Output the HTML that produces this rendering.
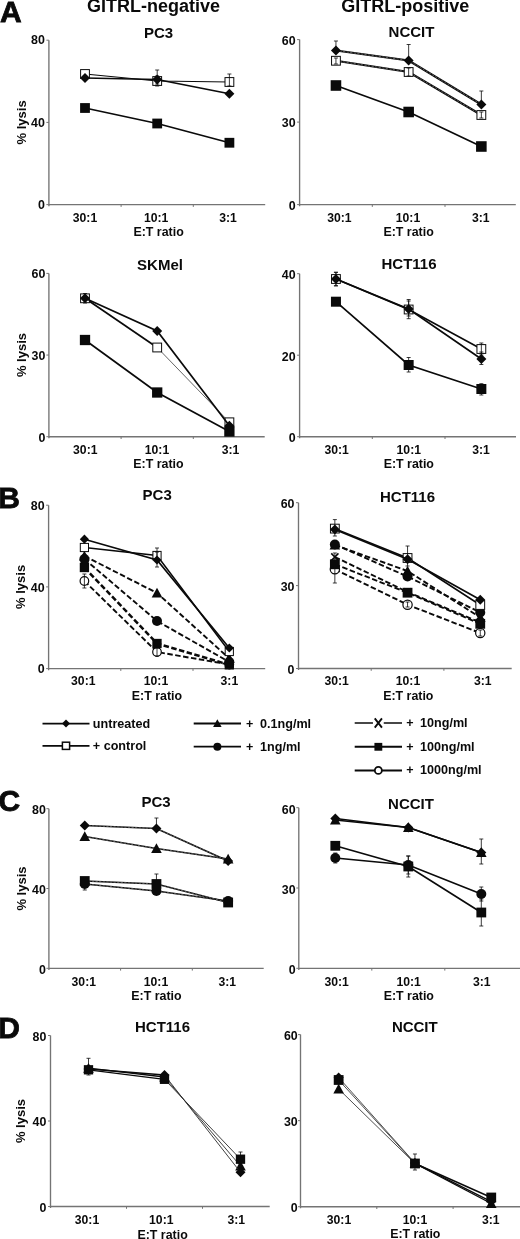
<!DOCTYPE html>
<html><head><meta charset="utf-8"><title>Figure</title>
<style>
html,body{margin:0;padding:0;background:#fff;}
body{width:520px;height:1239px;overflow:hidden;font-family:"Liberation Sans",sans-serif;}
svg{display:block;will-change:transform;}
svg text{font-family:"Liberation Sans",sans-serif;fill:#0a0a0a;}
</style></head>
<body>
<svg width="520" height="1239" viewBox="0 0 520 1239">
<rect x="0" y="0" width="520" height="1239" fill="#ffffff"/>
<text x="153.50" y="12.40" font-size="18" text-anchor="middle" font-weight="bold" >GITRL-negative</text>
<text x="405.30" y="12.20" font-size="18" text-anchor="middle" font-weight="bold" >GITRL-positive</text>
<text x="0.1" y="21.5" font-size="30" font-weight="bold" text-anchor="start" stroke="#0a0a0a" stroke-width="0.8" stroke-linejoin="miter">A</text>
<text x="-1.8" y="508.1" font-size="30" font-weight="bold" text-anchor="start" stroke="#0a0a0a" stroke-width="0.8" stroke-linejoin="miter">B</text>
<text x="-1.5" y="810.6" font-size="30" font-weight="bold" text-anchor="start" stroke="#0a0a0a" stroke-width="0.8" stroke-linejoin="miter">C</text>
<text x="-1.8" y="1038.1" font-size="30" font-weight="bold" text-anchor="start" stroke="#0a0a0a" stroke-width="0.8" stroke-linejoin="miter">D</text>
<path d="M48.9,40.2 L48.9,206.2 M48.9,204.6 L265.2,204.6" fill="none" stroke="#747474" stroke-width="1.35"/>
<path d="M46.4,40.20 L48.9,40.20" stroke="#747474" stroke-width="1"/>
<text x="44.90" y="44.30" font-size="12.4" text-anchor="end" font-weight="bold" >80</text>
<path d="M46.4,122.40 L48.9,122.40" stroke="#747474" stroke-width="1"/>
<text x="44.90" y="126.50" font-size="12.4" text-anchor="end" font-weight="bold" >40</text>
<path d="M46.4,204.60 L48.9,204.60" stroke="#747474" stroke-width="1"/>
<text x="44.90" y="208.70" font-size="12.4" text-anchor="end" font-weight="bold" >0</text>
<path d="M121.10,204.6 L121.10,206.9" stroke="#747474" stroke-width="1"/>
<path d="M193.30,204.6 L193.30,206.9" stroke="#747474" stroke-width="1"/>
<text x="85.00" y="221.60" font-size="12.2" text-anchor="middle" font-weight="bold" >30:1</text>
<text x="156.20" y="221.60" font-size="12.2" text-anchor="middle" font-weight="bold" >10:1</text>
<text x="228.00" y="221.60" font-size="12.2" text-anchor="middle" font-weight="bold" >3:1</text>
<text x="158.60" y="235.60" font-size="12.4" text-anchor="middle" font-weight="bold" >E:T ratio</text>
<text x="158.50" y="37.50" font-size="15" text-anchor="middle" font-weight="bold" >PC3</text>
<text transform="translate(25.70,122.40) rotate(-90)" font-size="13" text-anchor="middle" font-weight="bold">% lysis</text>
<polyline points="85.00,74.00 157.20,81.00 229.40,82.00" fill="none" stroke="#0a0a0a" stroke-width="1.2"/>
<rect x="80.60" y="69.60" width="8.80" height="8.80" fill="#fff" stroke="#0a0a0a" stroke-width="1"/>
<rect x="152.80" y="76.60" width="8.80" height="8.80" fill="#fff" stroke="#0a0a0a" stroke-width="1"/>
<rect x="225.00" y="77.60" width="8.80" height="8.80" fill="#fff" stroke="#0a0a0a" stroke-width="1"/>
<path d="M157.20,76 L157.20,86 M155.20,76 L159.20,76 M155.20,86 L159.20,86" stroke="#0a0a0a" stroke-width="0.8" fill="none"/>
<path d="M229.40,74 L229.40,86 M227.40,74 L231.40,74 M227.40,86 L231.40,86" stroke="#0a0a0a" stroke-width="0.8" fill="none"/>
<polyline points="85.00,78.00 157.20,79.50 229.40,93.75" fill="none" stroke="#0a0a0a" stroke-width="1.7"/>
<path d="M157.20,70 L157.20,84 M155.20,70 L159.20,70 M155.20,84 L159.20,84" stroke="#0a0a0a" stroke-width="0.8" fill="none"/>
<path d="M80.00,78.00 L85.00,73.00 L90.00,78.00 L85.00,83.00Z" fill="#0a0a0a"/>
<path d="M152.20,79.50 L157.20,74.50 L162.20,79.50 L157.20,84.50Z" fill="#0a0a0a"/>
<path d="M224.40,93.75 L229.40,88.75 L234.40,93.75 L229.40,98.75Z" fill="#0a0a0a"/>
<polyline points="85.00,108.00 157.20,123.50 229.40,142.75" fill="none" stroke="#0a0a0a" stroke-width="1.7"/>
<rect x="80.10" y="103.10" width="9.80" height="9.80" fill="#0a0a0a"/>
<rect x="152.30" y="118.60" width="9.80" height="9.80" fill="#0a0a0a"/>
<rect x="224.50" y="137.85" width="9.80" height="9.80" fill="#0a0a0a"/>
<path d="M299.6,39.6 L299.6,206.2 M299.6,204.6 L515.8,204.6" fill="none" stroke="#747474" stroke-width="1.35"/>
<path d="M297.1,39.60 L299.6,39.60" stroke="#747474" stroke-width="1"/>
<text x="295.60" y="44.60" font-size="12.4" text-anchor="end" font-weight="bold" >60</text>
<path d="M297.1,122.10 L299.6,122.10" stroke="#747474" stroke-width="1"/>
<text x="295.60" y="127.10" font-size="12.4" text-anchor="end" font-weight="bold" >30</text>
<path d="M297.1,204.60 L299.6,204.60" stroke="#747474" stroke-width="1"/>
<text x="295.60" y="209.60" font-size="12.4" text-anchor="end" font-weight="bold" >0</text>
<path d="M372.30,204.6 L372.30,206.9" stroke="#747474" stroke-width="1"/>
<path d="M445.00,204.6 L445.00,206.9" stroke="#747474" stroke-width="1"/>
<text x="339.40" y="221.60" font-size="12.2" text-anchor="middle" font-weight="bold" >30:1</text>
<text x="408.00" y="221.60" font-size="12.2" text-anchor="middle" font-weight="bold" >10:1</text>
<text x="480.80" y="221.60" font-size="12.2" text-anchor="middle" font-weight="bold" >3:1</text>
<text x="408.60" y="235.60" font-size="12.4" text-anchor="middle" font-weight="bold" >E:T ratio</text>
<text x="411.50" y="37.20" font-size="15" text-anchor="middle" font-weight="bold" >NCCIT</text>
<polyline points="335.95,60.75 408.65,72.00 481.35,115.00" fill="none" stroke="#0a0a0a" stroke-width="2.2"/>
<polyline points="335.95,60.75 408.65,72.00 481.35,115.00" fill="none" stroke="#9a9a9a" stroke-width="0.55" stroke-dasharray="2.2,1.4"/>
<rect x="331.55" y="56.35" width="8.80" height="8.80" fill="#fff" stroke="#0a0a0a" stroke-width="1"/>
<rect x="404.25" y="67.60" width="8.80" height="8.80" fill="#fff" stroke="#0a0a0a" stroke-width="1"/>
<rect x="476.95" y="110.60" width="8.80" height="8.80" fill="#fff" stroke="#0a0a0a" stroke-width="1"/>
<path d="M335.95,58 L335.95,64 M333.95,58 L337.95,58 M333.95,64 L337.95,64" stroke="#0a0a0a" stroke-width="0.8" fill="none"/>
<path d="M408.65,68 L408.65,76 M406.65,68 L410.65,68 M406.65,76 L410.65,76" stroke="#0a0a0a" stroke-width="0.8" fill="none"/>
<path d="M481.35,112 L481.35,118 M479.35,112 L483.35,112 M479.35,118 L483.35,118" stroke="#0a0a0a" stroke-width="0.8" fill="none"/>
<polyline points="335.95,50.50 408.65,60.50 481.35,104.50" fill="none" stroke="#0a0a0a" stroke-width="2.2"/>
<polyline points="335.95,50.50 408.65,60.50 481.35,104.50" fill="none" stroke="#9a9a9a" stroke-width="0.55" stroke-dasharray="2.2,1.4"/>
<path d="M335.95,41 L335.95,50 M333.95,41 L337.95,41 M333.95,50 L337.95,50" stroke="#0a0a0a" stroke-width="0.8" fill="none"/>
<path d="M408.65,44.5 L408.65,60 M406.65,44.5 L410.65,44.5 M406.65,60 L410.65,60" stroke="#0a0a0a" stroke-width="0.8" fill="none"/>
<path d="M481.35,91 L481.35,104 M479.35,91 L483.35,91 M479.35,104 L483.35,104" stroke="#0a0a0a" stroke-width="0.8" fill="none"/>
<path d="M330.95,50.50 L335.95,45.50 L340.95,50.50 L335.95,55.50Z" fill="#0a0a0a"/>
<path d="M403.65,60.50 L408.65,55.50 L413.65,60.50 L408.65,65.50Z" fill="#0a0a0a"/>
<path d="M476.35,104.50 L481.35,99.50 L486.35,104.50 L481.35,109.50Z" fill="#0a0a0a"/>
<polyline points="335.95,85.50 408.65,112.00 481.35,146.50" fill="none" stroke="#0a0a0a" stroke-width="1.7"/>
<rect x="330.66" y="80.21" width="10.58" height="10.58" fill="#0a0a0a"/>
<rect x="403.36" y="106.71" width="10.58" height="10.58" fill="#0a0a0a"/>
<rect x="476.06" y="141.21" width="10.58" height="10.58" fill="#0a0a0a"/>
<path d="M48.9,273.4 L48.9,438.3 M48.9,436.7 L264.7,436.7" fill="none" stroke="#747474" stroke-width="1.35"/>
<path d="M46.4,273.40 L48.9,273.40" stroke="#747474" stroke-width="1"/>
<text x="45.40" y="278.20" font-size="12.4" text-anchor="end" font-weight="bold" >60</text>
<path d="M46.4,355.05 L48.9,355.05" stroke="#747474" stroke-width="1"/>
<text x="45.40" y="359.85" font-size="12.4" text-anchor="end" font-weight="bold" >30</text>
<path d="M46.4,436.70 L48.9,436.70" stroke="#747474" stroke-width="1"/>
<text x="45.40" y="441.50" font-size="12.4" text-anchor="end" font-weight="bold" >0</text>
<path d="M121.10,436.7 L121.10,439.0" stroke="#747474" stroke-width="1"/>
<path d="M193.30,436.7 L193.30,439.0" stroke="#747474" stroke-width="1"/>
<text x="85.30" y="454.00" font-size="12.2" text-anchor="middle" font-weight="bold" >30:1</text>
<text x="157.00" y="454.00" font-size="12.2" text-anchor="middle" font-weight="bold" >10:1</text>
<text x="230.60" y="454.00" font-size="12.2" text-anchor="middle" font-weight="bold" >3:1</text>
<text x="158.40" y="468.30" font-size="12.4" text-anchor="middle" font-weight="bold" >E:T ratio</text>
<text x="160.00" y="269.50" font-size="15" text-anchor="middle" font-weight="bold" >SKMel</text>
<text transform="translate(25.70,355.05) rotate(-90)" font-size="13" text-anchor="middle" font-weight="bold">% lysis</text>
<path d="M85.00,298.30 L157.20,347.50" fill="none" stroke="#0a0a0a" stroke-width="1.7"/>
<path d="M157.20,347.50 L229.40,422.30" fill="none" stroke="#555" stroke-width="0.9"/>
<rect x="80.60" y="293.90" width="8.80" height="8.80" fill="#fff" stroke="#0a0a0a" stroke-width="1"/>
<rect x="152.80" y="343.10" width="8.80" height="8.80" fill="#fff" stroke="#0a0a0a" stroke-width="1"/>
<rect x="225.00" y="417.90" width="8.80" height="8.80" fill="#fff" stroke="#0a0a0a" stroke-width="1"/>
<path d="M85.00,293.5 L85.00,303 M83.00,293.5 L87.00,293.5 M83.00,303 L87.00,303" stroke="#0a0a0a" stroke-width="0.8" fill="none"/>
<polyline points="85.00,298.30 157.20,331.00 229.40,425.80" fill="none" stroke="#0a0a0a" stroke-width="1.7"/>
<path d="M80.00,298.30 L85.00,293.30 L90.00,298.30 L85.00,303.30Z" fill="#0a0a0a"/>
<path d="M152.20,331.00 L157.20,326.00 L162.20,331.00 L157.20,336.00Z" fill="#0a0a0a"/>
<path d="M224.40,425.80 L229.40,420.80 L234.40,425.80 L229.40,430.80Z" fill="#0a0a0a"/>
<polyline points="85.00,340.00 157.20,392.50 229.40,431.50" fill="none" stroke="#0a0a0a" stroke-width="1.7"/>
<rect x="79.86" y="334.86" width="10.29" height="10.29" fill="#0a0a0a"/>
<rect x="152.06" y="387.36" width="10.29" height="10.29" fill="#0a0a0a"/>
<rect x="224.25" y="426.36" width="10.29" height="10.29" fill="#0a0a0a"/>
<path d="M299.6,273.7 L299.6,438.3 M299.6,436.7 L516,436.7" fill="none" stroke="#747474" stroke-width="1.35"/>
<path d="M297.1,273.70 L299.6,273.70" stroke="#747474" stroke-width="1"/>
<text x="295.60" y="279.10" font-size="12.4" text-anchor="end" font-weight="bold" >40</text>
<path d="M297.1,355.20 L299.6,355.20" stroke="#747474" stroke-width="1"/>
<text x="295.60" y="360.60" font-size="12.4" text-anchor="end" font-weight="bold" >20</text>
<path d="M297.1,436.70 L299.6,436.70" stroke="#747474" stroke-width="1"/>
<text x="295.60" y="442.10" font-size="12.4" text-anchor="end" font-weight="bold" >0</text>
<path d="M372.30,436.7 L372.30,439.0" stroke="#747474" stroke-width="1"/>
<path d="M445.00,436.7 L445.00,439.0" stroke="#747474" stroke-width="1"/>
<text x="336.70" y="454.00" font-size="12.2" text-anchor="middle" font-weight="bold" >30:1</text>
<text x="408.80" y="454.00" font-size="12.2" text-anchor="middle" font-weight="bold" >10:1</text>
<text x="481.00" y="454.00" font-size="12.2" text-anchor="middle" font-weight="bold" >3:1</text>
<text x="408.80" y="468.30" font-size="12.4" text-anchor="middle" font-weight="bold" >E:T ratio</text>
<text x="409.00" y="269.00" font-size="15" text-anchor="middle" font-weight="bold" >HCT116</text>
<polyline points="335.95,279.00 408.65,309.50 481.35,349.00" fill="none" stroke="#0a0a0a" stroke-width="1.6"/>
<rect x="331.55" y="274.60" width="8.80" height="8.80" fill="#fff" stroke="#0a0a0a" stroke-width="1"/>
<rect x="404.25" y="305.10" width="8.80" height="8.80" fill="#fff" stroke="#0a0a0a" stroke-width="1"/>
<rect x="476.95" y="344.60" width="8.80" height="8.80" fill="#fff" stroke="#0a0a0a" stroke-width="1"/>
<path d="M335.95,272.3 L335.95,285.8 M333.95,272.3 L337.95,272.3 M333.95,285.8 L337.95,285.8" stroke="#0a0a0a" stroke-width="0.8" fill="none"/>
<path d="M408.65,299.5 L408.65,318.7 M406.65,299.5 L410.65,299.5 M406.65,318.7 L410.65,318.7" stroke="#0a0a0a" stroke-width="0.8" fill="none"/>
<path d="M481.35,343 L481.35,355 M479.35,343 L483.35,343 M479.35,355 L483.35,355" stroke="#0a0a0a" stroke-width="0.8" fill="none"/>
<polyline points="335.95,279.00 408.65,309.00 481.35,359.00" fill="none" stroke="#0a0a0a" stroke-width="1.7"/>
<path d="M335.95,272.3 L335.95,285.8 M333.95,272.3 L337.95,272.3 M333.95,285.8 L337.95,285.8" stroke="#0a0a0a" stroke-width="0.8" fill="none"/>
<path d="M408.65,301 L408.65,316 M406.65,301 L410.65,301 M406.65,316 L410.65,316" stroke="#0a0a0a" stroke-width="0.8" fill="none"/>
<path d="M481.35,352 L481.35,364.5 M479.35,352 L483.35,352 M479.35,364.5 L483.35,364.5" stroke="#0a0a0a" stroke-width="0.8" fill="none"/>
<path d="M330.95,279.00 L335.95,274.00 L340.95,279.00 L335.95,284.00Z" fill="#0a0a0a"/>
<path d="M403.65,309.00 L408.65,304.00 L413.65,309.00 L408.65,314.00Z" fill="#0a0a0a"/>
<path d="M476.35,359.00 L481.35,354.00 L486.35,359.00 L481.35,364.00Z" fill="#0a0a0a"/>
<polyline points="335.95,301.70 408.65,365.00 481.35,389.00" fill="none" stroke="#0a0a0a" stroke-width="1.7"/>
<path d="M408.65,357.5 L408.65,372 M406.65,357.5 L410.65,357.5 M406.65,372 L410.65,372" stroke="#0a0a0a" stroke-width="0.8" fill="none"/>
<path d="M481.35,383.7 L481.35,395 M479.35,383.7 L483.35,383.7 M479.35,395 L483.35,395" stroke="#0a0a0a" stroke-width="0.8" fill="none"/>
<rect x="330.95" y="296.70" width="10.00" height="10.00" fill="#0a0a0a"/>
<rect x="403.65" y="360.00" width="10.00" height="10.00" fill="#0a0a0a"/>
<rect x="476.35" y="384.00" width="10.00" height="10.00" fill="#0a0a0a"/>
<path d="M48.6,505.2 L48.6,670.2 M48.6,668.6 L265.2,668.6" fill="none" stroke="#747474" stroke-width="1.35"/>
<path d="M46.1,505.20 L48.6,505.20" stroke="#747474" stroke-width="1"/>
<text x="44.60" y="510.00" font-size="12.4" text-anchor="end" font-weight="bold" >80</text>
<path d="M46.1,586.90 L48.6,586.90" stroke="#747474" stroke-width="1"/>
<text x="44.60" y="591.70" font-size="12.4" text-anchor="end" font-weight="bold" >40</text>
<path d="M46.1,668.60 L48.6,668.60" stroke="#747474" stroke-width="1"/>
<text x="44.60" y="673.40" font-size="12.4" text-anchor="end" font-weight="bold" >0</text>
<path d="M120.80,668.6 L120.80,670.9" stroke="#747474" stroke-width="1"/>
<path d="M193.00,668.6 L193.00,670.9" stroke="#747474" stroke-width="1"/>
<text x="83.30" y="685.00" font-size="12.2" text-anchor="middle" font-weight="bold" >30:1</text>
<text x="156.00" y="685.00" font-size="12.2" text-anchor="middle" font-weight="bold" >10:1</text>
<text x="229.40" y="685.00" font-size="12.2" text-anchor="middle" font-weight="bold" >3:1</text>
<text x="157.00" y="699.80" font-size="12.4" text-anchor="middle" font-weight="bold" >E:T ratio</text>
<text x="157.20" y="500.00" font-size="15" text-anchor="middle" font-weight="bold" >PC3</text>
<text transform="translate(25.40,586.90) rotate(-90)" font-size="13" text-anchor="middle" font-weight="bold">% lysis</text>
<polyline points="84.40,581.00 157.00,652.00 229.30,664.50" fill="none" stroke="#0a0a0a" stroke-width="1.9" stroke-dasharray="5.5,2.5"/>
<circle cx="84.40" cy="581.00" r="4.30" fill="#fff" stroke="#0a0a0a" stroke-width="1.2"/>
<circle cx="157.00" cy="652.00" r="4.30" fill="#fff" stroke="#0a0a0a" stroke-width="1.2"/>
<circle cx="229.30" cy="664.50" r="4.30" fill="#fff" stroke="#0a0a0a" stroke-width="1.2"/>
<path d="M84.40,574 L84.40,588 M82.40,574 L86.40,574 M82.40,588 L86.40,588" stroke="#0a0a0a" stroke-width="0.8" fill="none"/>
<path d="M157.00,648 L157.00,656 M155.00,648 L159.00,648 M155.00,656 L159.00,656" stroke="#0a0a0a" stroke-width="0.8" fill="none"/>
<polyline points="84.40,566.00 157.00,643.50 229.30,665.00" fill="none" stroke="#0a0a0a" stroke-width="0"/>
<path d="M80.80,562.40 L88.00,569.60 M80.80,569.60 L88.00,562.40" stroke="#0a0a0a" stroke-width="1.5" fill="none"/>
<path d="M153.40,639.90 L160.60,647.10 M153.40,647.10 L160.60,639.90" stroke="#0a0a0a" stroke-width="1.5" fill="none"/>
<path d="M225.70,661.40 L232.90,668.60 M225.70,668.60 L232.90,661.40" stroke="#0a0a0a" stroke-width="1.5" fill="none"/>
<polyline points="84.40,567.50 157.00,643.50 229.30,664.80" fill="none" stroke="#0a0a0a" stroke-width="2.5" stroke-dasharray="5.5,2.5"/>
<rect x="79.75" y="562.85" width="9.31" height="9.31" fill="#0a0a0a"/>
<rect x="152.34" y="638.85" width="9.31" height="9.31" fill="#0a0a0a"/>
<rect x="224.65" y="660.14" width="9.31" height="9.31" fill="#0a0a0a"/>
<polyline points="84.40,559.00 157.00,621.00 229.30,662.00" fill="none" stroke="#0a0a0a" stroke-width="1.9" stroke-dasharray="5.5,2.5"/>
<circle cx="84.40" cy="559.00" r="5.00" fill="#0a0a0a"/>
<circle cx="157.00" cy="621.00" r="5.00" fill="#0a0a0a"/>
<circle cx="229.30" cy="662.00" r="5.00" fill="#0a0a0a"/>
<polyline points="84.40,556.00 157.00,593.00 229.30,658.50" fill="none" stroke="#0a0a0a" stroke-width="1.9" stroke-dasharray="5.5,2.5"/>
<path d="M79.10,560.50 L84.40,550.70 L89.70,560.50Z" fill="#0a0a0a"/>
<path d="M151.70,597.50 L157.00,587.70 L162.30,597.50Z" fill="#0a0a0a"/>
<path d="M224.00,663.00 L229.30,653.20 L234.60,663.00Z" fill="#0a0a0a"/>
<polyline points="84.40,547.50 157.00,555.50 229.30,651.50" fill="none" stroke="#0a0a0a" stroke-width="1.5"/>
<rect x="80.31" y="543.41" width="8.18" height="8.18" fill="#fff" stroke="#0a0a0a" stroke-width="1"/>
<rect x="152.91" y="551.41" width="8.18" height="8.18" fill="#fff" stroke="#0a0a0a" stroke-width="1"/>
<rect x="225.21" y="647.41" width="8.18" height="8.18" fill="#fff" stroke="#0a0a0a" stroke-width="1"/>
<path d="M157.00,548 L157.00,561 M155.00,548 L159.00,548 M155.00,561 L159.00,561" stroke="#0a0a0a" stroke-width="0.8" fill="none"/>
<polyline points="84.40,539.20 157.00,560.00 229.30,648.00" fill="none" stroke="#0a0a0a" stroke-width="1.7"/>
<path d="M157.00,552 L157.00,567 M155.00,552 L159.00,552 M155.00,567 L159.00,567" stroke="#0a0a0a" stroke-width="0.8" fill="none"/>
<path d="M79.80,539.20 L84.40,534.60 L89.00,539.20 L84.40,543.80Z" fill="#0a0a0a"/>
<path d="M152.40,560.00 L157.00,555.40 L161.60,560.00 L157.00,564.60Z" fill="#0a0a0a"/>
<path d="M224.70,648.00 L229.30,643.40 L233.90,648.00 L229.30,652.60Z" fill="#0a0a0a"/>
<path d="M298.5,502.7 L298.5,670.1 M298.5,668.5 L511.7,668.5" fill="none" stroke="#747474" stroke-width="1.35"/>
<path d="M296.0,502.70 L298.5,502.70" stroke="#747474" stroke-width="1"/>
<text x="294.50" y="507.70" font-size="12.4" text-anchor="end" font-weight="bold" >60</text>
<path d="M296.0,585.60 L298.5,585.60" stroke="#747474" stroke-width="1"/>
<text x="294.50" y="590.60" font-size="12.4" text-anchor="end" font-weight="bold" >30</text>
<path d="M296.0,668.50 L298.5,668.50" stroke="#747474" stroke-width="1"/>
<text x="294.50" y="673.50" font-size="12.4" text-anchor="end" font-weight="bold" >0</text>
<path d="M371.20,668.5 L371.20,670.8" stroke="#747474" stroke-width="1"/>
<path d="M443.90,668.5 L443.90,670.8" stroke="#747474" stroke-width="1"/>
<text x="336.70" y="685.00" font-size="12.2" text-anchor="middle" font-weight="bold" >30:1</text>
<text x="408.00" y="685.00" font-size="12.2" text-anchor="middle" font-weight="bold" >10:1</text>
<text x="482.70" y="685.00" font-size="12.2" text-anchor="middle" font-weight="bold" >3:1</text>
<text x="408.30" y="699.80" font-size="12.4" text-anchor="middle" font-weight="bold" >E:T ratio</text>
<text x="407.50" y="501.80" font-size="15" text-anchor="middle" font-weight="bold" >HCT116</text>
<polyline points="334.85,569.30 407.55,604.70 480.25,633.00" fill="none" stroke="#0a0a0a" stroke-width="1.9" stroke-dasharray="5.5,2.5"/>
<circle cx="334.85" cy="569.30" r="4.64" fill="#fff" stroke="#0a0a0a" stroke-width="1.2"/>
<circle cx="407.55" cy="604.70" r="4.64" fill="#fff" stroke="#0a0a0a" stroke-width="1.2"/>
<circle cx="480.25" cy="633.00" r="4.64" fill="#fff" stroke="#0a0a0a" stroke-width="1.2"/>
<path d="M334.85,553 L334.85,583 M332.85,553 L336.85,553 M332.85,583 L336.85,583" stroke="#0a0a0a" stroke-width="0.8" fill="none"/>
<path d="M407.55,602 L407.55,607 M405.55,602 L409.55,602 M405.55,607 L409.55,607" stroke="#0a0a0a" stroke-width="0.8" fill="none"/>
<path d="M480.25,630 L480.25,636 M478.25,630 L482.25,630 M478.25,636 L482.25,636" stroke="#0a0a0a" stroke-width="0.8" fill="none"/>
<polyline points="334.85,557.00 407.55,592.00 480.25,622.50" fill="none" stroke="#0a0a0a" stroke-width="1.9" stroke-dasharray="5.5,2.5"/>
<path d="M331.25,553.40 L338.45,560.60 M331.25,560.60 L338.45,553.40" stroke="#0a0a0a" stroke-width="1.5" fill="none"/>
<path d="M403.95,588.40 L411.15,595.60 M403.95,595.60 L411.15,588.40" stroke="#0a0a0a" stroke-width="1.5" fill="none"/>
<path d="M476.65,618.90 L483.85,626.10 M476.65,626.10 L483.85,618.90" stroke="#0a0a0a" stroke-width="1.5" fill="none"/>
<polyline points="334.85,564.30 407.55,592.70 480.25,623.80" fill="none" stroke="#0a0a0a" stroke-width="1.9" stroke-dasharray="5.5,2.5"/>
<rect x="329.95" y="559.40" width="9.80" height="9.80" fill="#0a0a0a"/>
<rect x="402.65" y="587.80" width="9.80" height="9.80" fill="#0a0a0a"/>
<rect x="475.35" y="618.90" width="9.80" height="9.80" fill="#0a0a0a"/>
<polyline points="334.85,545.00 407.55,571.00 480.25,617.50" fill="none" stroke="#0a0a0a" stroke-width="1.9" stroke-dasharray="5.5,2.5"/>
<path d="M329.55,549.50 L334.85,539.70 L340.15,549.50Z" fill="#0a0a0a"/>
<path d="M402.25,575.50 L407.55,565.70 L412.85,575.50Z" fill="#0a0a0a"/>
<path d="M474.95,622.00 L480.25,612.20 L485.55,622.00Z" fill="#0a0a0a"/>
<polyline points="334.85,544.50 407.55,576.50 480.25,612.50" fill="none" stroke="#0a0a0a" stroke-width="1.9" stroke-dasharray="5.5,2.5"/>
<circle cx="334.85" cy="544.50" r="5.00" fill="#0a0a0a"/>
<circle cx="407.55" cy="576.50" r="5.00" fill="#0a0a0a"/>
<circle cx="480.25" cy="612.50" r="5.00" fill="#0a0a0a"/>
<polyline points="334.85,528.60 407.55,558.00 480.25,605.00" fill="none" stroke="#0a0a0a" stroke-width="1.5"/>
<rect x="330.45" y="524.20" width="8.80" height="8.80" fill="#fff" stroke="#0a0a0a" stroke-width="1"/>
<rect x="403.15" y="553.60" width="8.80" height="8.80" fill="#fff" stroke="#0a0a0a" stroke-width="1"/>
<rect x="475.85" y="600.60" width="8.80" height="8.80" fill="#fff" stroke="#0a0a0a" stroke-width="1"/>
<path d="M334.85,519.6 L334.85,536 M332.85,519.6 L336.85,519.6 M332.85,536 L336.85,536" stroke="#0a0a0a" stroke-width="0.8" fill="none"/>
<path d="M407.55,546 L407.55,566 M405.55,546 L409.55,546 M405.55,566 L409.55,566" stroke="#0a0a0a" stroke-width="0.8" fill="none"/>
<polyline points="334.85,529.50 407.55,559.30 480.25,599.80" fill="none" stroke="#0a0a0a" stroke-width="1.7"/>
<path d="M329.85,529.50 L334.85,524.50 L339.85,529.50 L334.85,534.50Z" fill="#0a0a0a"/>
<path d="M402.55,559.30 L407.55,554.30 L412.55,559.30 L407.55,564.30Z" fill="#0a0a0a"/>
<path d="M475.25,599.80 L480.25,594.80 L485.25,599.80 L480.25,604.80Z" fill="#0a0a0a"/>
<path d="M42.5,723.6 L89.5,723.6" stroke="#0a0a0a" stroke-width="1.8"/>
<path d="M62.00,723.60 L66.00,719.60 L70.00,723.60 L66.00,727.60Z" fill="#0a0a0a"/>
<text x="92.80" y="727.60" font-size="12.6" text-anchor="start" font-weight="bold" >untreated</text>
<path d="M42.5,745.8 L89.5,745.8" stroke="#0a0a0a" stroke-width="1.8"/>
<rect x="62.4" y="742.1999999999999" width="7.2" height="7.2" fill="#fff" stroke="#0a0a0a" stroke-width="1.5"/>
<text x="92.80" y="749.80" font-size="12.6" text-anchor="start" font-weight="bold" >+ control</text>
<path d="M193.7,723.5 L241,723.5" stroke="#0a0a0a" stroke-width="1.8"/>
<path d="M213.11,727.10 L217.35,719.26 L221.59,727.10Z" fill="#0a0a0a"/>
<text x="246.00" y="727.50" font-size="12.5" text-anchor="start" font-weight="bold" >+</text>
<text x="260.00" y="727.50" font-size="12.6" text-anchor="start" font-weight="bold" >0.1ng/ml</text>
<path d="M193.7,746.7 L241,746.7" stroke="#0a0a0a" stroke-width="1.8"/>
<circle cx="217.35" cy="746.70" r="4.00" fill="#0a0a0a"/>
<text x="246.00" y="750.70" font-size="12.5" text-anchor="start" font-weight="bold" >+</text>
<text x="260.00" y="750.70" font-size="12.6" text-anchor="start" font-weight="bold" >1ng/ml</text>
<path d="M354.7,723 L402,723" stroke="#0a0a0a" stroke-width="1.5"/>
<rect x="372.95000000000005" y="720" width="10.8" height="6" fill="#fff"/>
<path d="M374.75,718.40 L381.95,727.60 M374.75,727.60 L381.95,718.40" stroke="#0a0a0a" stroke-width="1.9" fill="none"/>
<text x="406.20" y="727.00" font-size="12.5" text-anchor="start" font-weight="bold" >+</text>
<text x="420.00" y="727.00" font-size="12.6" text-anchor="start" font-weight="bold" >10ng/ml</text>
<path d="M354.7,746.8 L402,746.8" stroke="#0a0a0a" stroke-width="2.0"/>
<rect x="374.43" y="742.88" width="7.84" height="7.84" fill="#0a0a0a"/>
<text x="406.20" y="750.80" font-size="12.5" text-anchor="start" font-weight="bold" >+</text>
<text x="420.00" y="750.80" font-size="12.6" text-anchor="start" font-weight="bold" >100ng/ml</text>
<path d="M354.7,770.4 L402,770.4" stroke="#0a0a0a" stroke-width="2.0"/>
<circle cx="378.35" cy="770.4" r="3.5" fill="#fff" stroke="#0a0a0a" stroke-width="1.8"/>
<text x="406.20" y="774.40" font-size="12.5" text-anchor="start" font-weight="bold" >+</text>
<text x="420.00" y="774.40" font-size="12.6" text-anchor="start" font-weight="bold" >1000ng/ml</text>
<path d="M48.9,808.7 L48.9,969.9 M48.9,968.3 L263.7,968.3" fill="none" stroke="#747474" stroke-width="1.35"/>
<path d="M46.4,808.70 L48.9,808.70" stroke="#747474" stroke-width="1"/>
<text x="45.90" y="814.40" font-size="12.4" text-anchor="end" font-weight="bold" >80</text>
<path d="M46.4,888.50 L48.9,888.50" stroke="#747474" stroke-width="1"/>
<text x="45.90" y="894.20" font-size="12.4" text-anchor="end" font-weight="bold" >40</text>
<path d="M46.4,968.30 L48.9,968.30" stroke="#747474" stroke-width="1"/>
<text x="45.90" y="974.00" font-size="12.4" text-anchor="end" font-weight="bold" >0</text>
<path d="M120.60,968.3 L120.60,970.5999999999999" stroke="#747474" stroke-width="1"/>
<path d="M192.30,968.3 L192.30,970.5999999999999" stroke="#747474" stroke-width="1"/>
<text x="83.80" y="985.70" font-size="12.2" text-anchor="middle" font-weight="bold" >30:1</text>
<text x="156.00" y="985.70" font-size="12.2" text-anchor="middle" font-weight="bold" >10:1</text>
<text x="227.20" y="985.70" font-size="12.2" text-anchor="middle" font-weight="bold" >3:1</text>
<text x="156.50" y="1000.00" font-size="12.4" text-anchor="middle" font-weight="bold" >E:T ratio</text>
<text x="156.00" y="807.40" font-size="15" text-anchor="middle" font-weight="bold" >PC3</text>
<text transform="translate(25.70,888.50) rotate(-90)" font-size="13" text-anchor="middle" font-weight="bold">% lysis</text>
<polyline points="84.75,884.00 156.45,891.00 228.15,901.00" fill="none" stroke="#0a0a0a" stroke-width="1.7"/>
<polyline points="84.75,884.00 156.45,891.00 228.15,901.00" fill="none" stroke="#9a9a9a" stroke-width="0.55" stroke-dasharray="2.2,1.4"/>
<path d="M84.75,880 L84.75,890 M82.75,880 L86.75,880 M82.75,890 L86.75,890" stroke="#0a0a0a" stroke-width="0.8" fill="none"/>
<circle cx="84.75" cy="884.00" r="5.00" fill="#0a0a0a"/>
<circle cx="156.45" cy="891.00" r="5.00" fill="#0a0a0a"/>
<circle cx="228.15" cy="901.00" r="5.00" fill="#0a0a0a"/>
<polyline points="84.75,881.00 156.45,884.00 228.15,902.50" fill="none" stroke="#0a0a0a" stroke-width="1.7"/>
<polyline points="84.75,881.00 156.45,884.00 228.15,902.50" fill="none" stroke="#9a9a9a" stroke-width="0.55" stroke-dasharray="2.2,1.4"/>
<path d="M156.45,874 L156.45,884 M154.45,874 L158.45,874 M154.45,884 L158.45,884" stroke="#0a0a0a" stroke-width="0.8" fill="none"/>
<rect x="79.85" y="876.10" width="9.80" height="9.80" fill="#0a0a0a"/>
<rect x="151.55" y="879.10" width="9.80" height="9.80" fill="#0a0a0a"/>
<rect x="223.25" y="897.60" width="9.80" height="9.80" fill="#0a0a0a"/>
<polyline points="84.75,836.50 156.45,848.50 228.15,859.00" fill="none" stroke="#0a0a0a" stroke-width="1.7"/>
<polyline points="84.75,836.50 156.45,848.50 228.15,859.00" fill="none" stroke="#9a9a9a" stroke-width="0.55" stroke-dasharray="2.2,1.4"/>
<path d="M79.45,841.00 L84.75,831.20 L90.05,841.00Z" fill="#0a0a0a"/>
<path d="M151.15,853.00 L156.45,843.20 L161.75,853.00Z" fill="#0a0a0a"/>
<path d="M222.85,863.50 L228.15,853.70 L233.45,863.50Z" fill="#0a0a0a"/>
<polyline points="84.75,825.50 156.45,828.50 228.15,861.00" fill="none" stroke="#0a0a0a" stroke-width="1.7"/>
<polyline points="84.75,825.50 156.45,828.50 228.15,861.00" fill="none" stroke="#9a9a9a" stroke-width="0.55" stroke-dasharray="2.2,1.4"/>
<path d="M156.45,818 L156.45,828 M154.45,818 L158.45,818 M154.45,828 L158.45,828" stroke="#0a0a0a" stroke-width="0.8" fill="none"/>
<path d="M79.75,825.50 L84.75,820.50 L89.75,825.50 L84.75,830.50Z" fill="#0a0a0a"/>
<path d="M151.45,828.50 L156.45,823.50 L161.45,828.50 L156.45,833.50Z" fill="#0a0a0a"/>
<path d="M223.15,861.00 L228.15,856.00 L233.15,861.00 L228.15,866.00Z" fill="#0a0a0a"/>
<path d="M298.8,807.7 L298.8,969.9 M298.8,968.3 L520,968.3" fill="none" stroke="#747474" stroke-width="1.35"/>
<path d="M296.3,807.70 L298.8,807.70" stroke="#747474" stroke-width="1"/>
<text x="295.60" y="813.70" font-size="12.4" text-anchor="end" font-weight="bold" >60</text>
<path d="M296.3,888.00 L298.8,888.00" stroke="#747474" stroke-width="1"/>
<text x="295.60" y="894.00" font-size="12.4" text-anchor="end" font-weight="bold" >30</text>
<path d="M296.3,968.30 L298.8,968.30" stroke="#747474" stroke-width="1"/>
<text x="295.60" y="974.30" font-size="12.4" text-anchor="end" font-weight="bold" >0</text>
<path d="M371.80,968.3 L371.80,970.5999999999999" stroke="#747474" stroke-width="1"/>
<path d="M444.80,968.3 L444.80,970.5999999999999" stroke="#747474" stroke-width="1"/>
<text x="336.70" y="985.70" font-size="12.2" text-anchor="middle" font-weight="bold" >30:1</text>
<text x="408.70" y="985.70" font-size="12.2" text-anchor="middle" font-weight="bold" >10:1</text>
<text x="481.70" y="985.70" font-size="12.2" text-anchor="middle" font-weight="bold" >3:1</text>
<text x="408.80" y="1000.00" font-size="12.4" text-anchor="middle" font-weight="bold" >E:T ratio</text>
<text x="411.00" y="808.80" font-size="15" text-anchor="middle" font-weight="bold" >NCCIT</text>
<polyline points="335.30,858.00 408.30,865.00 481.30,894.00" fill="none" stroke="#0a0a0a" stroke-width="1.7"/>
<path d="M335.30,853 L335.30,863 M333.30,853 L337.30,853 M333.30,863 L337.30,863" stroke="#0a0a0a" stroke-width="0.8" fill="none"/>
<path d="M408.30,856 L408.30,874 M406.30,856 L410.30,856 M406.30,874 L410.30,874" stroke="#0a0a0a" stroke-width="0.8" fill="none"/>
<path d="M481.30,887 L481.30,901 M479.30,887 L483.30,887 M479.30,901 L483.30,901" stroke="#0a0a0a" stroke-width="0.8" fill="none"/>
<circle cx="335.30" cy="858.00" r="5.00" fill="#0a0a0a"/>
<circle cx="408.30" cy="865.00" r="5.00" fill="#0a0a0a"/>
<circle cx="481.30" cy="894.00" r="5.00" fill="#0a0a0a"/>
<polyline points="335.30,845.80 408.30,866.50 481.30,912.50" fill="none" stroke="#0a0a0a" stroke-width="1.7"/>
<path d="M408.30,856 L408.30,877 M406.30,856 L410.30,856 M406.30,877 L410.30,877" stroke="#0a0a0a" stroke-width="0.8" fill="none"/>
<path d="M481.30,899 L481.30,926 M479.30,899 L483.30,899 M479.30,926 L483.30,926" stroke="#0a0a0a" stroke-width="0.8" fill="none"/>
<rect x="330.40" y="840.90" width="9.80" height="9.80" fill="#0a0a0a"/>
<rect x="403.40" y="861.60" width="9.80" height="9.80" fill="#0a0a0a"/>
<rect x="476.40" y="907.60" width="9.80" height="9.80" fill="#0a0a0a"/>
<polyline points="335.30,820.00 408.30,827.50 481.30,852.50" fill="none" stroke="#0a0a0a" stroke-width="1.7"/>
<path d="M481.30,839 L481.30,864 M479.30,839 L483.30,839 M479.30,864 L483.30,864" stroke="#0a0a0a" stroke-width="0.8" fill="none"/>
<path d="M330.00,824.50 L335.30,814.70 L340.60,824.50Z" fill="#0a0a0a"/>
<path d="M403.00,832.00 L408.30,822.20 L413.60,832.00Z" fill="#0a0a0a"/>
<path d="M476.00,857.00 L481.30,847.20 L486.60,857.00Z" fill="#0a0a0a"/>
<polyline points="335.30,818.50 408.30,827.50 481.30,852.50" fill="none" stroke="#0a0a0a" stroke-width="1.7"/>
<path d="M330.30,818.50 L335.30,813.50 L340.30,818.50 L335.30,823.50Z" fill="#0a0a0a"/>
<path d="M403.30,827.50 L408.30,822.50 L413.30,827.50 L408.30,832.50Z" fill="#0a0a0a"/>
<path d="M476.30,852.50 L481.30,847.50 L486.30,852.50 L481.30,857.50Z" fill="#0a0a0a"/>
<path d="M50.5,1035.5 L50.5,1208.1 M50.5,1206.5 L269.7,1206.5" fill="none" stroke="#747474" stroke-width="1.35"/>
<path d="M48.0,1035.50 L50.5,1035.50" stroke="#747474" stroke-width="1"/>
<text x="46.30" y="1040.70" font-size="12.4" text-anchor="end" font-weight="bold" >80</text>
<path d="M48.0,1121.00 L50.5,1121.00" stroke="#747474" stroke-width="1"/>
<text x="46.30" y="1126.20" font-size="12.4" text-anchor="end" font-weight="bold" >40</text>
<path d="M48.0,1206.50 L50.5,1206.50" stroke="#747474" stroke-width="1"/>
<text x="46.30" y="1211.70" font-size="12.4" text-anchor="end" font-weight="bold" >0</text>
<path d="M126.50,1206.5 L126.50,1208.8" stroke="#747474" stroke-width="1"/>
<path d="M202.50,1206.5 L202.50,1208.8" stroke="#747474" stroke-width="1"/>
<text x="87.00" y="1224.00" font-size="12.2" text-anchor="middle" font-weight="bold" >30:1</text>
<text x="161.30" y="1224.00" font-size="12.2" text-anchor="middle" font-weight="bold" >10:1</text>
<text x="236.20" y="1224.00" font-size="12.2" text-anchor="middle" font-weight="bold" >3:1</text>
<text x="162.60" y="1238.50" font-size="12.4" text-anchor="middle" font-weight="bold" >E:T ratio</text>
<text x="162.50" y="1031.70" font-size="15" text-anchor="middle" font-weight="bold" >HCT116</text>
<text transform="translate(24.70,1121.00) rotate(-90)" font-size="13" text-anchor="middle" font-weight="bold">% lysis</text>
<path d="M88.50,1068.20 L164.50,1077.00" fill="none" stroke="#0a0a0a" stroke-width="1.3"/>
<path d="M164.50,1077.00 L240.50,1166.00" fill="none" stroke="#2a2a2a" stroke-width="0.9"/>
<path d="M83.20,1072.71 L88.50,1062.90 L93.80,1072.71Z" fill="#0a0a0a"/>
<path d="M159.20,1081.51 L164.50,1071.70 L169.80,1081.51Z" fill="#0a0a0a"/>
<path d="M235.20,1170.51 L240.50,1160.70 L245.80,1170.51Z" fill="#0a0a0a"/>
<path d="M88.50,1069.00 L164.50,1075.00" fill="none" stroke="#0a0a0a" stroke-width="1.3"/>
<path d="M164.50,1075.00 L240.50,1172.30" fill="none" stroke="#2a2a2a" stroke-width="0.9"/>
<path d="M83.50,1069.00 L88.50,1064.00 L93.50,1069.00 L88.50,1074.00Z" fill="#0a0a0a"/>
<path d="M159.50,1075.00 L164.50,1070.00 L169.50,1075.00 L164.50,1080.00Z" fill="#0a0a0a"/>
<path d="M235.50,1172.30 L240.50,1167.30 L245.50,1172.30 L240.50,1177.30Z" fill="#0a0a0a"/>
<path d="M88.50,1069.80 L164.50,1079.30" fill="none" stroke="#0a0a0a" stroke-width="1.3"/>
<path d="M164.50,1079.30 L240.50,1159.20" fill="none" stroke="#2a2a2a" stroke-width="0.9"/>
<path d="M88.50,1058.3 L88.50,1075 M86.50,1058.3 L90.50,1058.3 M86.50,1075 L90.50,1075" stroke="#0a0a0a" stroke-width="0.8" fill="none"/>
<path d="M240.50,1152 L240.50,1159 M238.50,1152 L242.50,1152 M238.50,1159 L242.50,1159" stroke="#0a0a0a" stroke-width="0.8" fill="none"/>
<rect x="83.84" y="1065.14" width="9.31" height="9.31" fill="#0a0a0a"/>
<rect x="159.84" y="1074.64" width="9.31" height="9.31" fill="#0a0a0a"/>
<rect x="235.84" y="1154.55" width="9.31" height="9.31" fill="#0a0a0a"/>
<path d="M300.5,1034.6 L300.5,1208.3 M300.5,1206.7 L520,1206.7" fill="none" stroke="#747474" stroke-width="1.35"/>
<path d="M298.0,1034.60 L300.5,1034.60" stroke="#747474" stroke-width="1"/>
<text x="297.70" y="1039.80" font-size="12.4" text-anchor="end" font-weight="bold" >60</text>
<path d="M298.0,1120.65 L300.5,1120.65" stroke="#747474" stroke-width="1"/>
<text x="297.70" y="1125.85" font-size="12.4" text-anchor="end" font-weight="bold" >30</text>
<path d="M298.0,1206.70 L300.5,1206.70" stroke="#747474" stroke-width="1"/>
<text x="297.70" y="1211.90" font-size="12.4" text-anchor="end" font-weight="bold" >0</text>
<path d="M376.80,1206.7 L376.80,1209.0" stroke="#747474" stroke-width="1"/>
<path d="M453.10,1206.7 L453.10,1209.0" stroke="#747474" stroke-width="1"/>
<text x="339.00" y="1224.00" font-size="12.2" text-anchor="middle" font-weight="bold" >30:1</text>
<text x="415.00" y="1224.00" font-size="12.2" text-anchor="middle" font-weight="bold" >10:1</text>
<text x="490.70" y="1224.00" font-size="12.2" text-anchor="middle" font-weight="bold" >3:1</text>
<text x="415.30" y="1237.70" font-size="12.4" text-anchor="middle" font-weight="bold" >E:T ratio</text>
<text x="414.80" y="1031.50" font-size="15" text-anchor="middle" font-weight="bold" >NCCIT</text>
<path d="M338.65,1089.00 L414.95,1163.50" fill="none" stroke="#3a3a3a" stroke-width="0.9"/>
<path d="M414.95,1163.50 L491.25,1203.50" fill="none" stroke="#0a0a0a" stroke-width="1.4"/>
<path d="M333.35,1093.51 L338.65,1083.70 L343.95,1093.51Z" fill="#0a0a0a"/>
<path d="M409.65,1168.01 L414.95,1158.20 L420.25,1168.01Z" fill="#0a0a0a"/>
<path d="M485.95,1208.01 L491.25,1198.20 L496.55,1208.01Z" fill="#0a0a0a"/>
<path d="M338.65,1077.50 L414.95,1163.00" fill="none" stroke="#3a3a3a" stroke-width="0.9"/>
<path d="M414.95,1163.00 L491.25,1201.50" fill="none" stroke="#0a0a0a" stroke-width="1.4"/>
<path d="M333.65,1077.50 L338.65,1072.50 L343.65,1077.50 L338.65,1082.50Z" fill="#0a0a0a"/>
<path d="M409.95,1163.00 L414.95,1158.00 L419.95,1163.00 L414.95,1168.00Z" fill="#0a0a0a"/>
<path d="M486.25,1201.50 L491.25,1196.50 L496.25,1201.50 L491.25,1206.50Z" fill="#0a0a0a"/>
<path d="M338.65,1080.00 L414.95,1163.50" fill="none" stroke="#3a3a3a" stroke-width="0.9"/>
<path d="M414.95,1163.50 L491.25,1197.50" fill="none" stroke="#0a0a0a" stroke-width="1.4"/>
<path d="M414.95,1154 L414.95,1170 M412.95,1154 L416.95,1154 M412.95,1170 L416.95,1170" stroke="#0a0a0a" stroke-width="0.8" fill="none"/>
<rect x="333.75" y="1075.10" width="9.80" height="9.80" fill="#0a0a0a"/>
<rect x="410.05" y="1158.60" width="9.80" height="9.80" fill="#0a0a0a"/>
<rect x="486.35" y="1192.60" width="9.80" height="9.80" fill="#0a0a0a"/>
</svg>
</body></html>
